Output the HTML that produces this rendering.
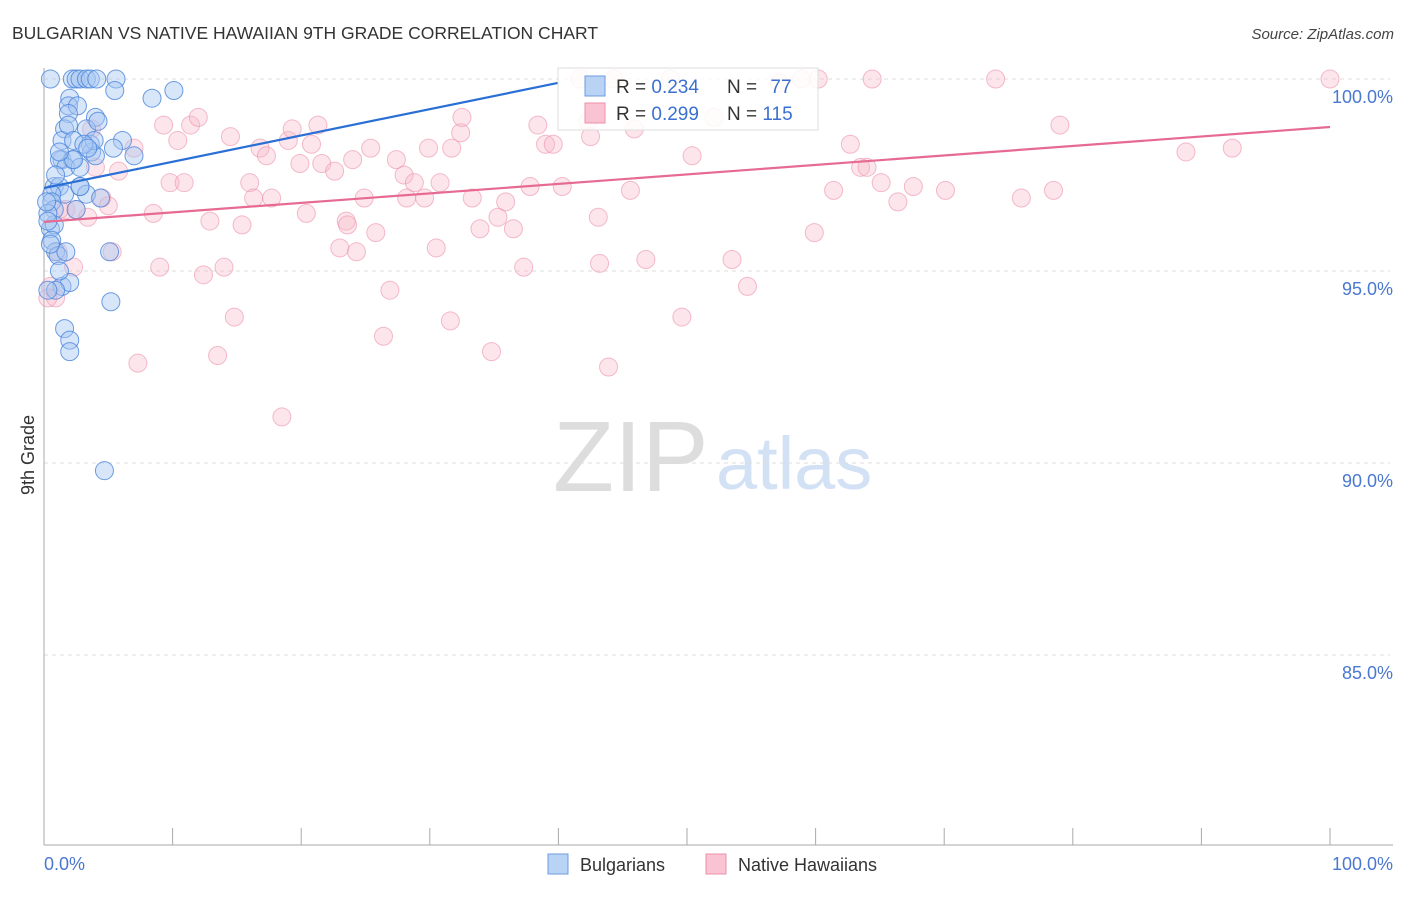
<!DOCTYPE html>
<html><head><meta charset="utf-8"><style>
body{margin:0;background:#fff;font-family:"Liberation Sans",sans-serif;}
svg text{font-family:"Liberation Sans",sans-serif;}
</style></head><body>
<svg id="chart" width="1406" height="892" xmlns="http://www.w3.org/2000/svg">
<text x="12" y="39" font-size="17.5" fill="#333">BULGARIAN VS NATIVE HAWAIIAN 9TH GRADE CORRELATION CHART</text>
<text x="1394" y="39" font-size="15" fill="#444" text-anchor="end" font-style="italic">Source: ZipAtlas.com</text>
<text x="553" y="491" font-size="100" fill="#ddd" font-family="Liberation Serif,serif">ZIP</text>
<text x="716" y="489" font-size="74" fill="#d3e1f5">atlas</text>
<g id="grid"></g><g id="pts"></g><g id="lines"></g>
<text transform="translate(34,455) rotate(-90)" font-size="18" fill="#333" text-anchor="middle">9th Grade</text>
<rect x="558" y="68" width="260" height="62" fill="#fff" fill-opacity="0.85" stroke="#ddd"/>
<rect x="585" y="76" width="20" height="20" fill="#b9d3f5" stroke="#6d9be0"/>
<rect x="585" y="103" width="20" height="20" fill="#f9c3d3" stroke="#ee8fab"/>
<text x="616" y="93" font-size="19" fill="#333">R = <tspan fill="#3b70d0">0.234</tspan></text>
<text x="727" y="93" font-size="19" fill="#333">N = <tspan fill="#3b70d0" dx="8">77</tspan></text>
<text x="616" y="120" font-size="19" fill="#333">R = <tspan fill="#3b70d0">0.299</tspan></text>
<text x="727" y="120" font-size="19" fill="#333">N = <tspan fill="#3b70d0">115</tspan></text>
<rect x="548" y="854" width="20" height="20" fill="#b9d3f5" stroke="#6d9be0"/>
<text x="580" y="871" font-size="18" fill="#333">Bulgarians</text>
<rect x="706" y="854" width="20" height="20" fill="#f9c3d3" stroke="#ee8fab"/>
<text x="738" y="871" font-size="18" fill="#333">Native Hawaiians</text>
</svg>
<script>
const yTicks=[100,95,90,85];
const xTickLabels=["0.0%","100.0%"];
const blueX=[0.5,2.2,2.5,2.8,3.3,3.6,4.1,5.6,5.5,8.4,10.1,2.0,1.9,2.6,4.0,1.9,3.3,1.6,1.4,3.6,6.1,5.4,7.0,1.4,2.2,3.7,4.0,1.2,0.8,1.2,1.6,2.8,3.3,0.6,0.6,1.7,2.8,0.8,2.5,4.4,0.5,0.8,0.6,0.9,1.1,1.7,5.1,1.4,2.0,0.9,5.2,1.6,2.0,2.0,4.7,0.3,0.3,0.5,2.3,3.9,0.9,0.2,0.3,1.2,1.9,2.3,2.8,4.2,1.2,3.1,3.4];
const blueY=[100,100,100,100,100,100,100,100,99.7,99.5,99.7,99.5,99.3,99.3,99.0,99.1,98.7,98.7,98.4,98.3,98.4,98.2,98.0,97.9,97.9,98.1,98.0,97.9,97.2,97.2,97.0,97.2,97.0,97.0,96.8,97.7,97.7,96.6,96.6,96.9,96.1,96.2,95.8,95.5,95.4,95.5,95.5,94.6,94.7,94.5,94.2,93.5,93.2,92.9,89.8,94.5,96.5,95.7,97.9,98.4,97.5,96.8,96.3,95.0,98.8,98.4,97.2,98.9,98.1,98.3,98.2];
const pinkX=[0.5,0.9,1.1,1.7,2.5,3.4,3.7,4.5,5.0,5.3,5.8,7.0,7.3,8.5,9.0,9.3,9.8,10.4,10.9,11.4,12.0,12.4,12.9,13.5,14.0,14.5,14.8,15.4,16.0,16.3,16.8,17.3,17.7,18.5,19.0,19.3,19.9,20.4,20.8,21.3,21.6,22.6,23.0,23.5,23.6,24.0,24.3,24.9,25.4,25.8,26.4,26.9,27.4,28.0,28.2,28.8,29.6,29.9,30.5,30.8,31.6,31.7,32.4,32.5,33.3,33.9,34.8,35.3,35.9,36.5,37.3,37.8,38.4,39.0,39.6,40.3,41.7,42.3,42.5,43.1,43.2,43.9,44.3,45.6,45.9,46.8,48.7,49.6,50.4,52.1,53.5,54.7,57.2,58.9,59.9,60.2,61.4,62.7,63.5,64.0,64.4,65.1,66.4,67.6,70.1,74.0,76.0,78.5,79.0,88.8,92.4,100,0.3,1.2,2.3,4.0];
const pinkY=[94.6,94.3,95.5,96.6,96.6,96.4,98.7,96.9,96.7,95.5,97.6,98.2,92.6,96.5,95.1,98.8,97.3,98.4,97.3,98.8,99.0,94.9,96.3,92.8,95.1,98.5,93.8,96.2,97.3,96.9,98.2,98.0,96.9,91.2,98.4,98.7,97.8,96.5,98.3,98.8,97.8,97.6,95.6,96.3,96.2,97.9,95.5,96.9,98.2,96.0,93.3,94.5,97.9,97.5,96.9,97.3,96.9,98.2,95.6,97.3,93.7,98.2,98.6,99.0,96.9,96.1,92.9,96.4,96.8,96.1,95.1,97.2,98.8,98.3,98.3,97.2,100,98.9,98.5,96.4,95.2,92.5,100,97.1,98.7,95.3,100,93.8,98.0,99.0,95.3,94.6,99.9,100,96.0,100,97.1,98.3,97.7,97.7,100,97.3,96.8,97.2,97.1,100,96.9,97.1,98.8,98.1,98.2,100,94.3,96.6,95.1,97.7];
const blueLine=[[0,97.16],[40,99.9]];
const pinkLine=[[0,96.28],[100,98.75]];
const X=v=>44+v*12.86, Y=v=>79+(100-v)*38.4;
const NS="http://www.w3.org/2000/svg";
function mk(tag,attrs,parent){const e=document.createElementNS(NS,tag);for(const k in attrs)e.setAttribute(k,attrs[k]);document.getElementById(parent).appendChild(e);return e;}
yTicks.forEach(t=>{
  const l=mk('line',{x1:44,x2:1390,y1:Y(t),y2:Y(t),stroke:'#ddd','stroke-dasharray':'4,4'},'grid');
  
  
  const tx=mk('text',{x:1393,y:Y(t)+24,'font-size':18,fill:'#4a78d0','text-anchor':'end'},'grid');
  tx.textContent=t.toFixed(1)+'%';
  
  
});
const ax=mk('line',{x1:44,x2:44,y1:68,y2:845,stroke:'#aaa'},'grid');


const bx=mk('line',{x1:44,x2:1393,y1:845,y2:845,stroke:'#aaa'},'grid');


for(let i=0;i<=10;i++){const t=mk('line',{x1:X(i*10),x2:X(i*10),y1:828,y2:845,stroke:'#aaa'},'grid');
  
  }
xTickLabels.forEach((s,i)=>{const t=mk('text',{x:i?1393:44,y:870,'font-size':18,fill:'#4a78d0','text-anchor':i?'end':'start'},'grid');t.textContent=s;
  
  });
pinkX.forEach((x,i)=>{const c=mk('circle',{cx:X(x),cy:Y(pinkY[i]),r:9,fill:'#f7b6c9','fill-opacity':0.35,stroke:'#ec8fab','stroke-opacity':0.6},'pts');
  
  });
blueX.forEach((x,i)=>{const c=mk('circle',{cx:X(x),cy:Y(blueY[i]),r:9,fill:'#a9c8f2','fill-opacity':0.45,stroke:'#4a84dc','stroke-opacity':0.8},'pts');
  
  });
const bl=mk('line',{x1:X(blueLine[0][0]),y1:Y(blueLine[0][1]),x2:X(blueLine[1][0]),y2:Y(blueLine[1][1]),stroke:'#2a6fd6','stroke-width':2.2},'lines');


const pl=mk('line',{x1:X(pinkLine[0][0]),y1:Y(pinkLine[0][1]),x2:X(pinkLine[1][0]),y2:Y(pinkLine[1][1]),stroke:'#e66a92','stroke-width':2.2},'lines');


</script>
</body></html>
